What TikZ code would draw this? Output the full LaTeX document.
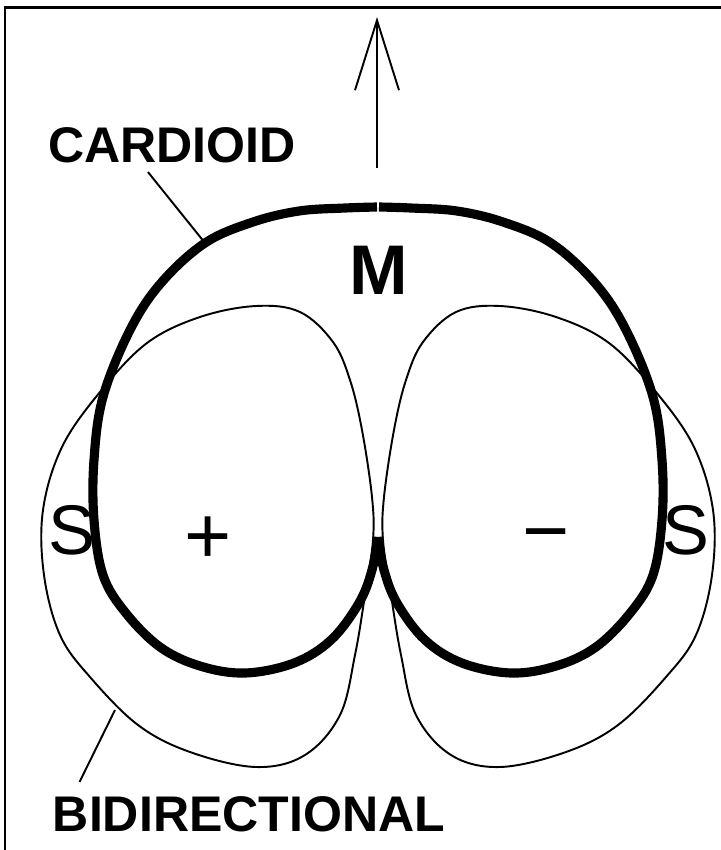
\documentclass[tikz,border=0pt]{standalone}
\usepackage{fontspec}
\setmainfont{Liberation Sans}
\usetikzlibrary{arrows.meta,positioning,calc}
\tikzset{
  fin/.style={line width=1.1pt, line join=round},
  epais/.style={line width=5.2pt, line cap=butt, line join=round},
  lbl/.style={inner sep=0pt, font=\fontsize{28.5}{28.5}\selectfont\bfseries},
  lettre/.style={inner sep=0pt, font=\fontsize{#1}{#1}\selectfont},
  lettre/.default=40,
  arr/.style={-{Straight Barb[length=14mm, width=8.8mm]}, line width=1.1pt},
}

\begin{document}
\begin{tikzpicture}[x=0.02cm, y=-0.02cm]
    \useasboundingbox[fill=white] (0,0) rectangle (721,850);
    \draw[line width=1.7pt] (5,850) |- (721,7);
    % lobes (thin) and cardioid (thick), left side then mirrored
    \foreach \s/\dx in {1/0, -1/756} {
      \begin{scope}[shift={(\dx,0)}, xscale=\s]
        \draw[fin] plot[smooth cycle, tension=0.6] coordinates {
          (373,540) (372,497) (362,430) (350,380) (333,342) (300,312) (256,306)
          (200,317) (147,343) (100,392) (62,447) (43,510) (44,575) (60,635)
          (90,677) (138,725) (190,752) (256,767) (305,755) (340,715) (355,655) (365,595)};
        \draw[epais] plot[smooth, tension=0.6] coordinates {
          (377,207) (345,208) (299,211) (253,222) (205,243) (161,283) (130,330)
          (103,397) (94,460) (94,520) (103,575) (125,612) (160,647) (200,666)
          (245,673) (294,663) (331,640) (359,603) (372,570) (378,537)};
      \end{scope}
    }
    \coordinate (pied) at (377,168);
    \coordinate (pointe) at (377,17);
    \draw[arr] (pied) -- (pointe);
    \node[lbl] (card) at (172,145) {CARDIOID};
    \node[lbl] (bidi) at (249,814) {BIDIRECTIONAL};
    \node[lettre, font=\fontsize{40}{40}\selectfont\bfseries] (m) at (379,270) {M};
    \node[lettre] (sg) at (72,530) {S};
    \node[lettre] (sd) at (686,530) {S};
    \node[lettre=46, anchor=base] (plus) at (208,563) {+};
    \node[lettre=46, anchor=base] (moins) at (546,558) {−};
    \coordinate (cardpt) at (205,243);
    \coordinate (bidipt) at (115,710);
    \draw[fin] ([shift={(-24,9)}]card.south) -- (cardpt);
    \draw[fin] ([shift={(27,-14)}]bidi.north west) -- (bidipt);
\end{tikzpicture}
\end{document}
